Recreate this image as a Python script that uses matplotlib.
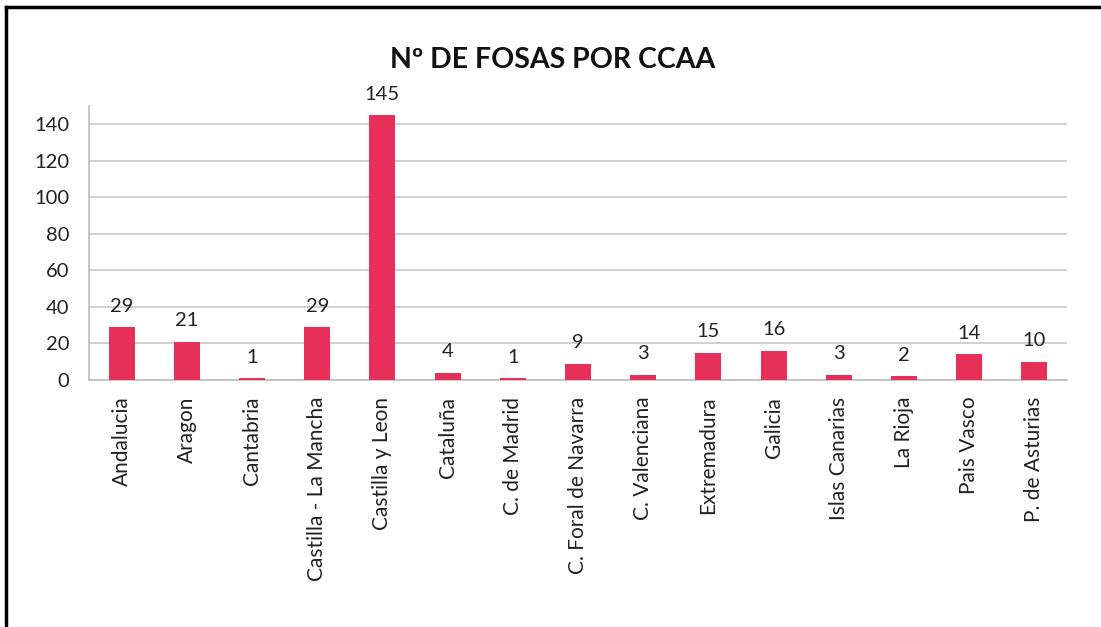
import matplotlib
matplotlib.use("Agg")
import matplotlib.pyplot as plt
from matplotlib.lines import Line2D

categories = ["Andalucia", "Aragon", "Cantabria", "Castilla - La Mancha", "Castilla y Leon",
              "Cataluña", "C. de Madrid", "C. Foral de Navarra", "C. Valenciana", "Extremadura",
              "Galicia", "Islas Canarias", "La Rioja", "Pais Vasco", "P. de Asturias"]
values = [29, 21, 1, 29, 145, 4, 1, 9, 3, 15, 16, 3, 2, 14, 10]
yticks = [0, 20, 40, 60, 80, 100, 120, 140]
title = "Nº DE FOSAS POR CCAA"

plt.rcParams['font.family'] = ['Lato', 'DejaVu Sans']

fig = plt.figure(figsize=(11.01, 6.27), dpi=100)
ax = fig.add_axes([89/1101, 1-380/627, (1067-89)/1101, (380-106)/627])

x = list(range(len(categories)))
ax.bar(x, values, width=0.4, color='#E6305A', zorder=3)
for xi, v in zip(x, values):
    ax.annotate(str(v), (xi, v), xytext=(0, 9), textcoords='offset points',
                ha='center', va='bottom', fontsize=14.5, color='#222222')

ax.set_xlim(-0.5, len(categories) - 0.5)
ax.set_ylim(0, 150)
ax.set_yticks(yticks)
ax.set_xticks(x)
ax.set_xticklabels(categories, rotation=90, fontsize=15, color='#222222')
ax.tick_params(axis='y', labelsize=14.5, colors='#222222', length=0, pad=14)
ax.tick_params(axis='x', length=0, pad=12)
ax.yaxis.grid(True, color='#C8C8C8', linewidth=1.2, zorder=0)
for s in ['top', 'right']:
    ax.spines[s].set_visible(False)
for s in ['left', 'bottom']:
    ax.spines[s].set_color('#BEBEBE')
    ax.spines[s].set_linewidth(1.2)

fig.text(553/1101, 1-60/627, title, ha='center', va='center', fontsize=20.5, fontweight='bold', color='#111111')

# outer frame (left and top visible)
fig.add_artist(Line2D([6/1101, 6/1101], [0, 1-7/627], transform=fig.transFigure, color='black', linewidth=2.5))
fig.add_artist(Line2D([6/1101, 1], [1-7/627, 1-7/627], transform=fig.transFigure, color='black', linewidth=2.5))

fig.savefig("out.png", dpi=100)
